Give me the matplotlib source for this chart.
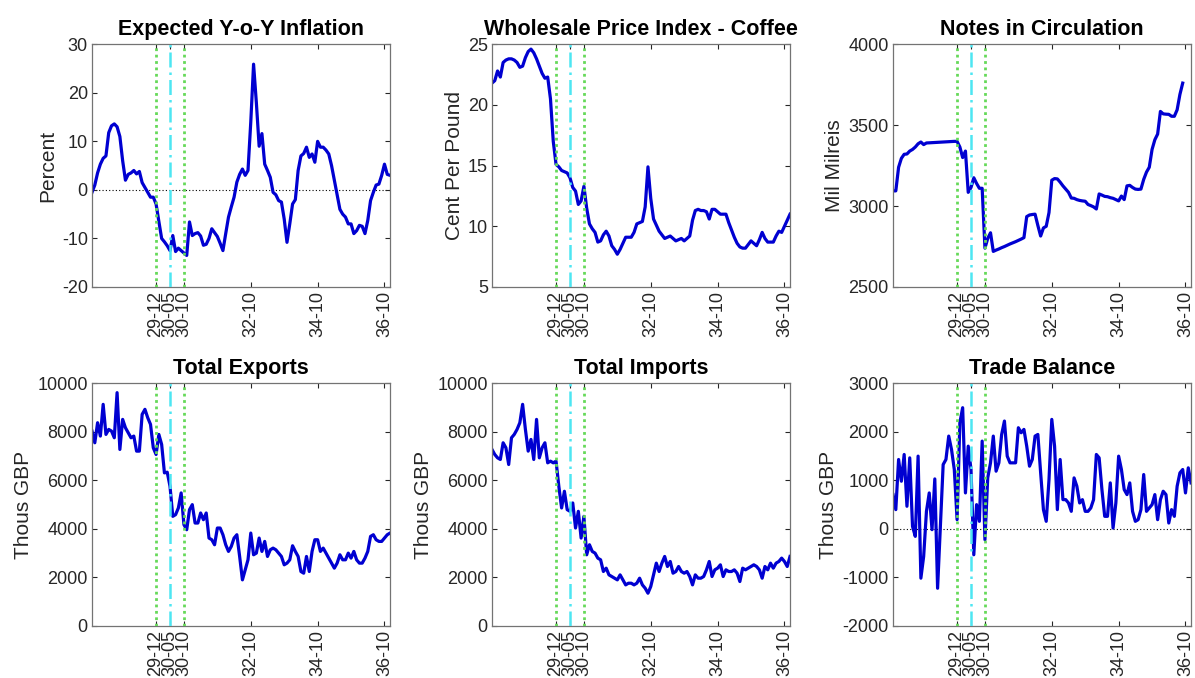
import matplotlib
matplotlib.use("Agg")
import matplotlib.pyplot as plt

plt.rcParams['font.family'] = ['Liberation Sans', 'DejaVu Sans']
plt.rcParams['axes.unicode_minus'] = False

# monthly data, 1928-01 .. 1936-12 (month index 0..107)
inflation = [-0.5, 1, 3.5, 5.3, 6.5, 7, 11.8, 13.2, 13.6, 13, 11, 6, 2, 3.2, 3.5, 4, 3.3, 3.8,
             1.5, 0.5, -0.5, -1.5, -1.5, -2.9, -6.5, -10, -10.7, -11.5, -12.5, -9.4, -12.7, -12,
             -12.5, -13, -13.5, -6.6, -9.4, -9, -8.8, -9.5, -11.4, -11.2, -10, -8, -8.8, -9.6,
             -11, -12.5, -9, -5.6, -3.5, -1.5, 1.6, 3.2, 4.3, 3, 4, 14, 25.9, 18, 9, 11.6, 5.3,
             4, 2.6, -0.5, -1, -2.2, -2.5, -6, -10.8, -7, -2.9, -2, 4, 7, 7.5, 8.8, 6.7, 7.4,
             5.7, 10, 8.8, 8.8, 8.2, 7.4, 5, 2, -1, -4, -5, -5.6, -7, -7, -9, -8.4, -7.3, -7.5,
             -9, -6.3, -2.2, -0.5, 1, 1.2, 3, 5.3, 3.2, 3]

coffee = [21.8, 22, 22.8, 22.3, 23.5, 23.7, 23.8, 23.8, 23.7, 23.5, 23.1, 23.2, 23.9, 24.4,
          24.6, 24.3, 23.8, 23.2, 22.6, 22.2, 22.3, 20.5, 17, 15.1, 14.9, 14.6, 14.5, 14.4, 14,
          13.2, 12.9, 11.8, 12.1, 13.3, 11.5, 10.2, 9.8, 9.5, 8.7, 8.8, 9.3, 9.6, 9.2, 8.4, 8.1,
          7.7, 8.1, 8.6, 9.1, 9.1, 9.1, 9.5, 10.2, 10.3, 10.4, 11.6, 14.9, 12.3, 10.6, 10.1,
          9.6, 9.3, 9, 9.1, 9.2, 9, 8.8, 8.9, 9, 8.8, 9, 9.2, 10.5, 11.3, 11.4, 11.3, 11.3,
          11.2, 10.6, 11.4, 11.4, 11.2, 11, 11, 11, 10.3, 9.7, 9.1, 8.6, 8.3, 8.2, 8.2, 8.5,
          8.8, 8.6, 8.4, 8.9, 9.5, 9, 8.7, 8.7, 8.7, 9.2, 9.6, 9.5, 10, 10.5, 11]

notes = [3094, 3094, 3240, 3295, 3320, 3322, 3340, 3350, 3365, 3385, 3396, 3380, 3390, 3391,
         3392, 3393, 3394, 3395, 3396, 3397, 3398, 3399, 3400, 3400, 3365, 3300, 3340, 3085,
         3115, 3175, 3140, 3110, 3110, 2740, 2800, 2835, 2720, 2728, 2735, 2743, 2750, 2758,
         2766, 2773, 2780, 2788, 2796, 2805, 2935, 2945, 2948, 2950, 2880, 2815, 2865, 2875,
         2960, 3160, 3170, 3168, 3148, 3125, 3105, 3085, 3050, 3048, 3040, 3035, 3032, 3030,
         3010, 3003, 2995, 2982, 3075, 3068, 3060, 3058, 3052, 3048, 3040, 3032, 3062, 3040,
         3125, 3128, 3115, 3105, 3103, 3105, 3165, 3210, 3240, 3350, 3410, 3445, 3585, 3570,
         3568, 3567, 3555, 3555, 3595, 3690, 3760]

exports = [8030, 7548, 8375, 7824, 9132, 7893, 8099, 8030, 7755, 9614, 7273, 8512, 8168, 7961,
           7755, 7824, 7204, 7204, 8719, 8926, 8581, 8306, 7342, 7066, 7893, 7479, 6309, 6336,
           5757, 4518, 4587, 4862, 5482, 4174, 3967, 4793, 5000, 4242, 4242, 4656, 4380, 4656,
           3623, 3554, 3347, 4036, 4036, 3760, 3347, 3072, 3278, 3623, 3760, 2865, 1901, 2314,
           2727, 3829, 2934, 3003, 3623, 3072, 3485, 2865, 3140, 3209, 3140, 3003, 2865, 2521,
           2590, 2727, 3306, 3072, 2865, 2245, 2176, 2865, 2245, 3072, 3554, 3554, 3072, 3209,
           3003, 2796, 2590, 2383, 2590, 2934, 2727, 2727, 3003, 2796, 3072, 2727, 2590, 2590,
           2796, 3072, 3691, 3760, 3554, 3485, 3485, 3623, 3760, 3829]

imports = [7273, 7066, 6928, 6860, 7548, 7342, 6653, 7755, 7893, 8099, 8375, 9132, 8099, 7204,
           7686, 6860, 8512, 6928, 7342, 7548, 6722, 6791, 6722, 6791, 5757, 4862, 5551, 4793,
           4725, 5069, 4036, 4725, 3623, 4518, 2934, 3347, 3072, 3003, 2796, 2727, 2245, 2383,
           2107, 2039, 1970, 1901, 2107, 1901, 1694, 1763, 1763, 1694, 1763, 1970, 1694, 1556,
           1350, 1625, 2107, 2590, 2245, 2590, 2865, 2452, 2658, 2176, 2245, 2452, 2245, 2176,
           2245, 2039, 1694, 2107, 1970, 1970, 2039, 2314, 2658, 2039, 2314, 2383, 2521, 2039,
           2314, 2245, 2245, 2314, 2176, 1832, 2383, 2314, 2383, 2452, 2521, 2452, 2314, 1970,
           2452, 2314, 2590, 2383, 2590, 2658, 2796, 2658, 2452, 2865]

balance = [707, 397, 1430, 982, 1533, 466, 1464, 52, -154, 1499, -1015, -567, 362, 741, -16,
           1030, -1222, 52, 1326, 1430, 1912, 1636, 1223, 190, 2187, 2497, 741, 1705, 1223,
           -533, 500, 156, 1808, -223, 1051, 1361, 1912, 1189, 1361, 1946, 2222, 1499, 1361,
           1361, 1361, 2084, 1981, 2050, 1705, 1292, 1430, 1912, 1946, 1154, 397, 156, 1016,
           2256, 1705, 397, 1430, 603, 603, 534, 362, 1051, 879, 534, 603, 362, 362, 431, 603,
           1533, 1464, 810, 259, 259, 948, 18, 534, 1499, 1223, 810, 707, 948, 362, 156, 190,
           397, 1120, 362, 431, 500, 707, 190, 603, 776, 707, 121, 397, 259, 879, 1154, 1223,
           741, 1258, 948]

months = list(range(108))
tick_pos = [23, 28, 33, 57, 81, 105]
tick_lab = ['29-12', '30-05', '30-10', '32-10', '34-10', '36-10']
crisis = [23, 33]     # green dotted
event = 28            # cyan dash-dot

panels = [
    ("Expected Y-o-Y Inflation", "Percent", inflation, (-20, 30), 10, True),
    ("Wholesale Price Index - Coffee", "Cent Per Pound", coffee, (5, 25), 5, False),
    ("Notes in Circulation", "Mil Milreis", notes, (2500, 4000), 500, False),
    ("Total Exports", "Thous GBP", exports, (0, 10000), 2000, False),
    ("Total Imports", "Thous GBP", imports, (0, 10000), 2000, False),
    ("Trade Balance", "Thous GBP", balance, (-2000, 3000), 1000, True),
]

lefts = [0.077, 0.4117, 0.7473]
bottoms = [0.5767, 0.0767]
w = 0.2494
h = 0.358

fig = plt.figure(figsize=(11.95, 6.78), dpi=100)

for i, (title, ylab, vals, ylim, step, zero) in enumerate(panels):
    ax = fig.add_axes([lefts[i % 3], bottoms[i // 3], w, h])
    ax.plot(months[:len(vals)], vals, color=(0.0, 0.0, 0.82), lw=2.3, zorder=2)
    if zero:
        ax.axhline(0, color='k', lw=0.8, ls=(0, (1, 2)), zorder=1)
    for c in crisis:
        ax.axvline(c, color=(0.4, 0.85, 0.35), lw=2.0, ls=(0, (1, 1.3)), zorder=3)
    ax.axvline(event, color=(0.3, 0.9, 0.95), lw=1.8, ls=(0, (6, 2, 1, 2)), zorder=3)

    ax.set_xlim(0, 107)
    ax.set_ylim(*ylim)
    ax.set_yticks(range(ylim[0], ylim[1] + 1, step))
    ax.set_xticks(tick_pos)
    ax.set_xticklabels(tick_lab, rotation=90)
    ax.tick_params(direction='in', length=3.5, width=0.8, top=True, right=True,
                   labelsize=13, colors='0.15', pad=3)
    for s in ax.spines.values():
        s.set_color('0.45')
        s.set_linewidth(0.9)
    ax.set_title(title, fontsize=15.5, fontweight='bold', pad=7)
    ax.set_ylabel(ylab, fontsize=15, color='0.15', labelpad=3)

fig.savefig("out.png", dpi=100)
